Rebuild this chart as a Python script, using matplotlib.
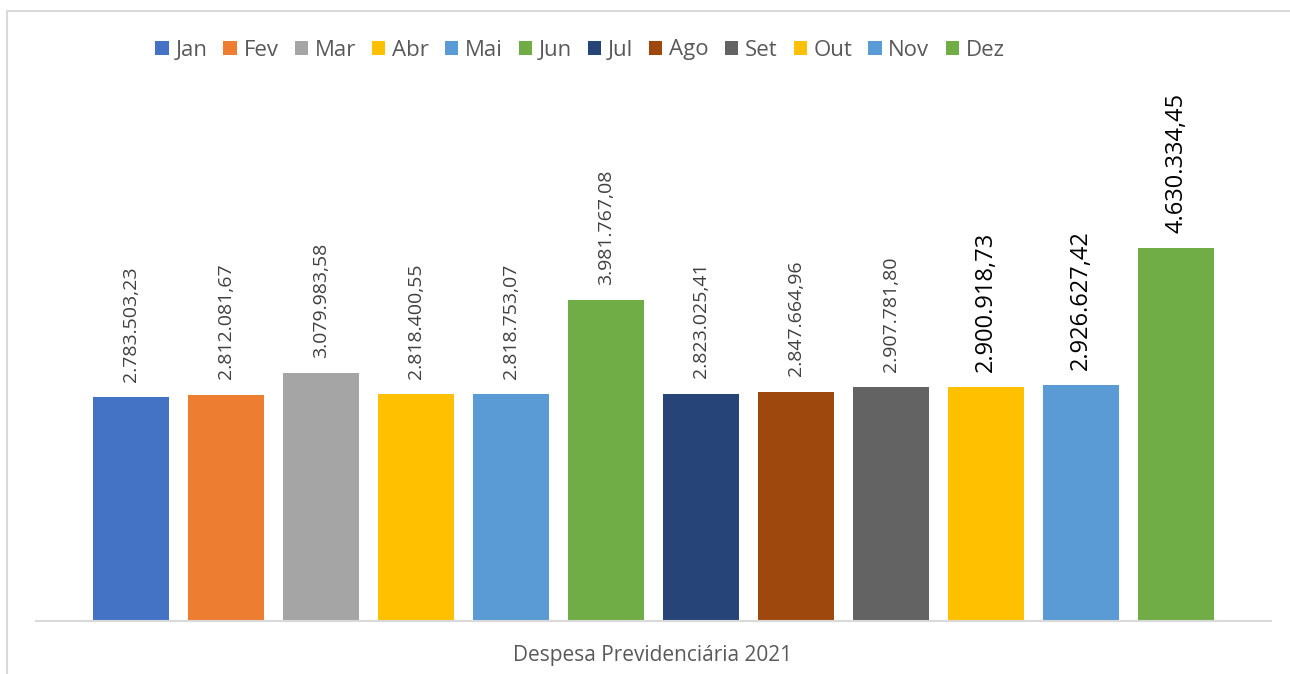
import matplotlib
matplotlib.use("Agg")
import matplotlib.pyplot as plt
from matplotlib import font_manager
from matplotlib.patches import Rectangle

months = ["Jan", "Fev", "Mar", "Abr", "Mai", "Jun", "Jul", "Ago", "Set", "Out", "Nov", "Dez"]
values = [2783503.23, 2812081.67, 3079983.58, 2818400.55, 2818753.07, 3981767.08,
          2823025.41, 2847664.96, 2907781.80, 2900918.73, 2926627.42, 4630334.45]
labels = ["2.783.503,23", "2.812.081,67", "3.079.983,58", "2.818.400,55", "2.818.753,07",
          "3.981.767,08", "2.823.025,41", "2.847.664,96", "2.907.781,80", "2.900.918,73",
          "2.926.627,42", "4.630.334,45"]
colors = ["#4472C4", "#ED7D31", "#A5A5A5", "#FFC000", "#5B9BD5", "#70AD47",
          "#264478", "#9E480E", "#636363", "#FFC000", "#5B9BD5", "#70AD47"]
xlabel = "Despesa Previdenciária 2021"

names = {f.name for f in font_manager.fontManager.ttflist}
narrow = "Liberation Sans Narrow" if "Liberation Sans Narrow" in names else "Open Sans"
main_font = "Open Sans"

W, H = 1290, 674
fig = plt.figure(figsize=(W / 100, H / 100), dpi=100)

# light frame around the chart area
fig.patches.append(Rectangle((7 / W, -0.05), 1.1, (H - 11) / H + 0.05,
                             transform=fig.transFigure, fill=False,
                             edgecolor="#d9d9d9", linewidth=1.5))

ax = fig.add_axes([36 / W, 53 / H, (1271 - 36) / W, 402.5 / H])
x = list(range(len(months)))
bars = ax.bar(x, [v / 1e6 for v in values], width=0.8, color=colors, label=months)
ax.set_xlim(-1, 12)
ax.set_ylim(0, 5)

for i, b in enumerate(bars):
    big = i >= 9
    ax.text(b.get_x() + b.get_width() / 2, b.get_height() + 0.19, labels[i],
            rotation=90, ha="center", va="bottom", clip_on=False,
            fontsize=17 if big else 14, family=narrow,
            color="black" if big else "#404040")

for s in ["top", "right", "left"]:
    ax.spines[s].set_visible(False)
ax.spines["bottom"].set_color("#d9d9d9")
ax.spines["bottom"].set_linewidth(1.5)
ax.set_xticks([])
ax.set_yticks([])

fig.text(653 / W, 1 - 655 / H, xlabel, ha="center", va="center",
         fontsize=15, family=main_font, color="#595959")

leg = fig.legend(handles=bars.patches, labels=months, loc="center",
                 bbox_to_anchor=(580 / W, 1 - 50 / H), ncol=12, frameon=False,
                 prop={"family": main_font, "size": 16},
                 handlelength=0.6, handleheight=0.6, handletextpad=0.3,
                 columnspacing=0.72, borderaxespad=0)
for t in leg.get_texts():
    t.set_color("#595959")

fig.savefig("out.png", dpi=100)
